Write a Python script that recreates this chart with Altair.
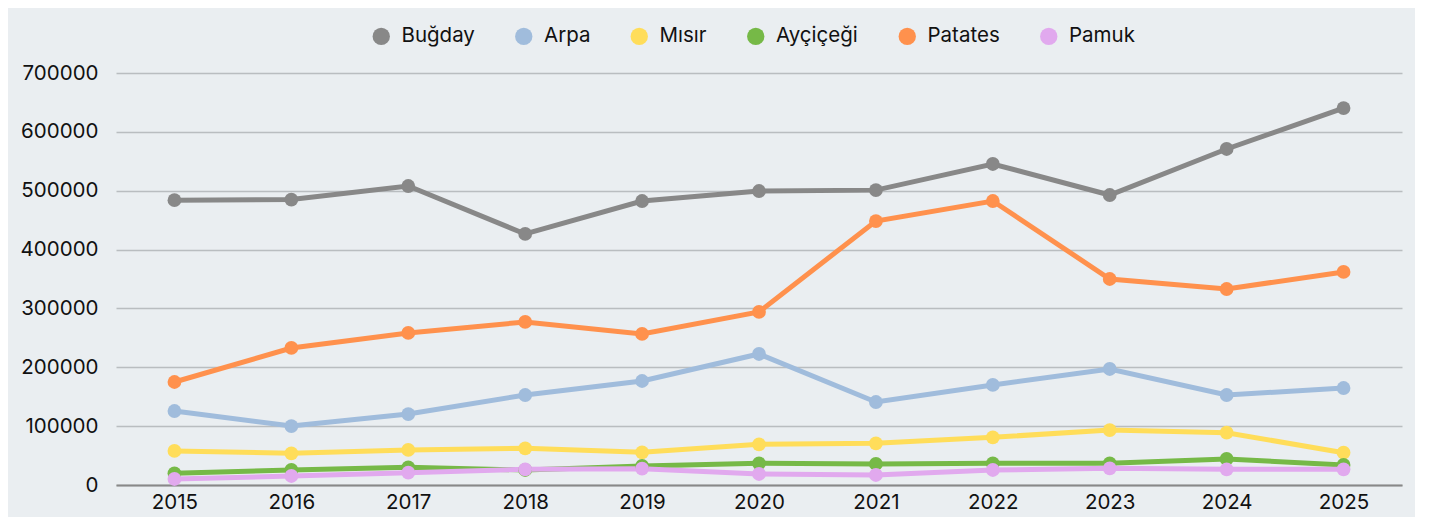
import altair as alt
import pandas as pd

years = ["2015", "2016", "2017", "2018", "2019", "2020", "2021", "2022", "2023", "2024", "2025"]
series = ["Buğday", "Arpa", "Mısır", "Ayçiçeği", "Patates", "Pamuk"]
colors = ["#888888", "#a0bcdc", "#ffdd5a", "#76b947", "#ff914d", "#e1a9ee"]

bugday = [484000, 485000, 508000, 426500, 482500, 499500, 501000, 545400, 492700, 570900, 640500]
arpa = [125700, 100200, 120600, 152900, 176700, 222600, 141000, 170000, 197100, 152900, 164800]
misir = [57800, 53800, 59500, 62300, 55500, 69100, 70800, 81000, 93400, 88900, 54900]
aycicegi = [19800, 25500, 30000, 25500, 32300, 36900, 35700, 36900, 36900, 44200, 34000]
patates = [175000, 232800, 258300, 277000, 256600, 294000, 448500, 482500, 350000, 333000, 362000]
pamuk = [10200, 15300, 21000, 26700, 27800, 18700, 17000, 25500, 28300, 26700, 26700]

values = [bugday, arpa, misir, aycicegi, patates, pamuk]
rows = []
for i, (name, vals) in enumerate(zip(series, values)):
    for y, v in zip(years, vals):
        rows.append({"Yıl": y, "Ürün": name, "Değer": v, "order": i})
df = pd.DataFrame(rows)

FONT = "Inter"

color = alt.Color(
    "Ürün:N",
    scale=alt.Scale(domain=series, range=colors),
    sort=series,
    legend=alt.Legend(
        title=None,
        orient="none",
        direction="horizontal",
        legendX=255,
        legendY=-47,
        symbolType="circle",
        symbolSize=300,
        symbolStrokeWidth=0,
        labelFontSize=20.5,
        labelFont=FONT,
        labelColor="#111111",
        labelOffset=10,
        columnPadding=38.5,
        symbolOpacity=1,
    ),
)

x = alt.X(
    "Yıl:O",
    sort=years,
    scale=alt.Scale(paddingInner=0, paddingOuter=0.5),
    axis=alt.Axis(
        title=None,
        labelAngle=0,
        labelFontSize=20.5,
        labelFont=FONT,
        labelColor="#111111",
        ticks=False,
        domainColor="#888888",
        domainWidth=2,
        labelPadding=7,
        grid=False,
    ),
)

y = alt.Y(
    "Değer:Q",
    scale=alt.Scale(domain=[0, 700000], nice=False),
    axis=alt.Axis(
        title=None,
        values=[0, 100000, 200000, 300000, 400000, 500000, 600000, 700000],
        format="d",
        labelFontSize=20.5,
        labelFont=FONT,
        labelColor="#111111",
        ticks=False,
        domain=False,
        labelPadding=18,
        gridColor="#b9bdc0",
        gridWidth=1.5,
    ),
)

lines = alt.Chart(df).mark_line(strokeWidth=5).encode(
    x=x, y=y, color=color, detail="Ürün:N", order="order:Q"
)
points = alt.Chart(df).mark_circle(size=190, opacity=1).encode(
    x=x, y=y, color=color, order="order:Q"
)

chart = (
    alt.layer(lines, points)
    .properties(
        width=1286,
        height=412,
        background="#eaeef1",
        padding={"left": 108, "top": 65, "right": 13, "bottom": 32},
        autosize=alt.AutoSizeParams(type="none"),
    )
    .configure_view(stroke=None, fill="#eaeef1")
)

chart.save("out.html", embed_options={"renderer": "svg", "actions": False})
